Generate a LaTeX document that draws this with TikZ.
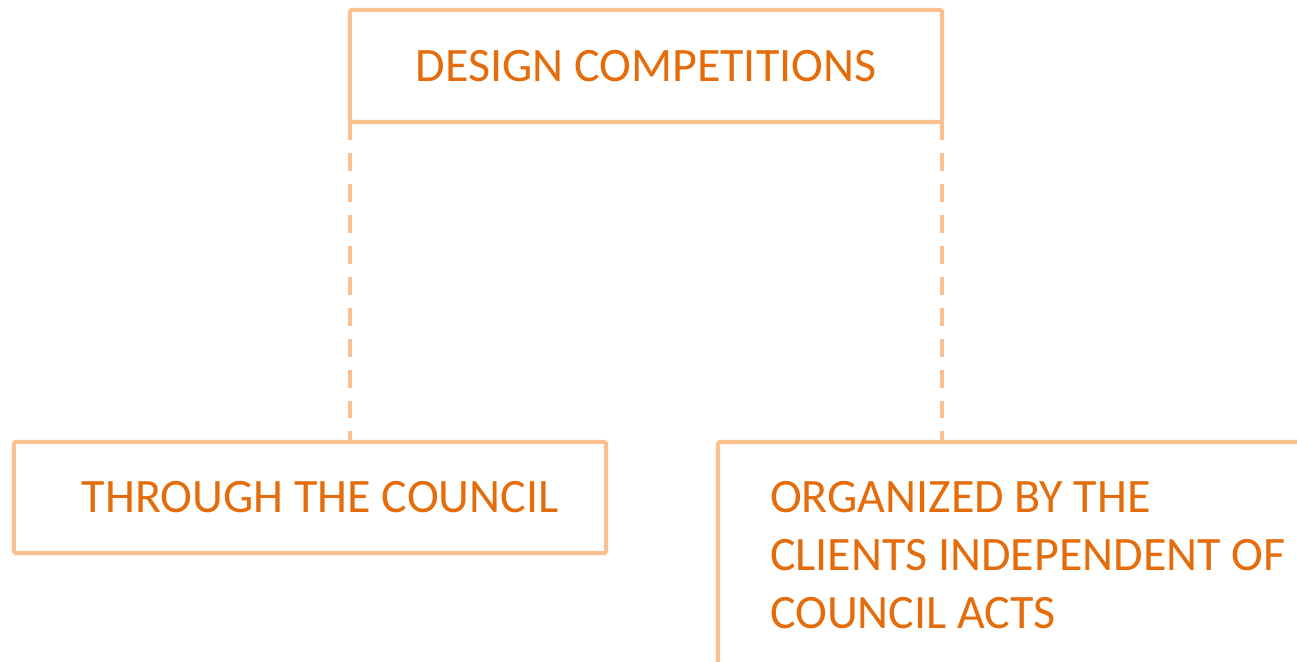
\documentclass[tikz,border=0pt]{standalone}
\usepackage{fontspec}
\setmainfont{Carlito}
\definecolor{boxline}{HTML}{FAC08F}
\definecolor{boxtext}{HTML}{E46C0A}
\tikzset{
    orgbox/.style={draw=boxline, line width=1.15pt, rounded corners=0.5pt, text=boxtext,
        font=\fontsize{13.65}{16.5}\selectfont, minimum width=5.92cm, inner sep=0pt, outer sep=0pt},
    link/.style={draw=boxline, line width=1.15pt, dash pattern=on 5.1pt off 3.7pt}
}
\begin{document}
\begin{tikzpicture}[x=0.01cm, y=-0.01cm]
    \useasboundingbox (0, 0) rectangle (1297, 662);
    \clip (0, 0) rectangle (1297, 662);

    \node[orgbox, minimum height=1.12cm] (comp) at (646, 66) {DESIGN COMPETITIONS};

    \node[orgbox, minimum height=1.11cm, text width=5.92cm, align=flush left] (council) at (310, 497.5)
        {\hspace*{0.68cm}THROUGH THE COUNCIL};

    \node[orgbox, anchor=north west, minimum height=2.26cm, text width=6.2cm, inner xsep=0.52cm, align=flush left] (clients) at (718, 442)
        {ORGANIZED BY THE\\CLIENTS INDEPENDENT OF\\COUNCIL ACTS};

    \draw[link] (comp.south west) -- (comp.south west |- council.north);
    \draw[link] (comp.south east) -- (comp.south east |- clients.north);
\end{tikzpicture}
\end{document}
